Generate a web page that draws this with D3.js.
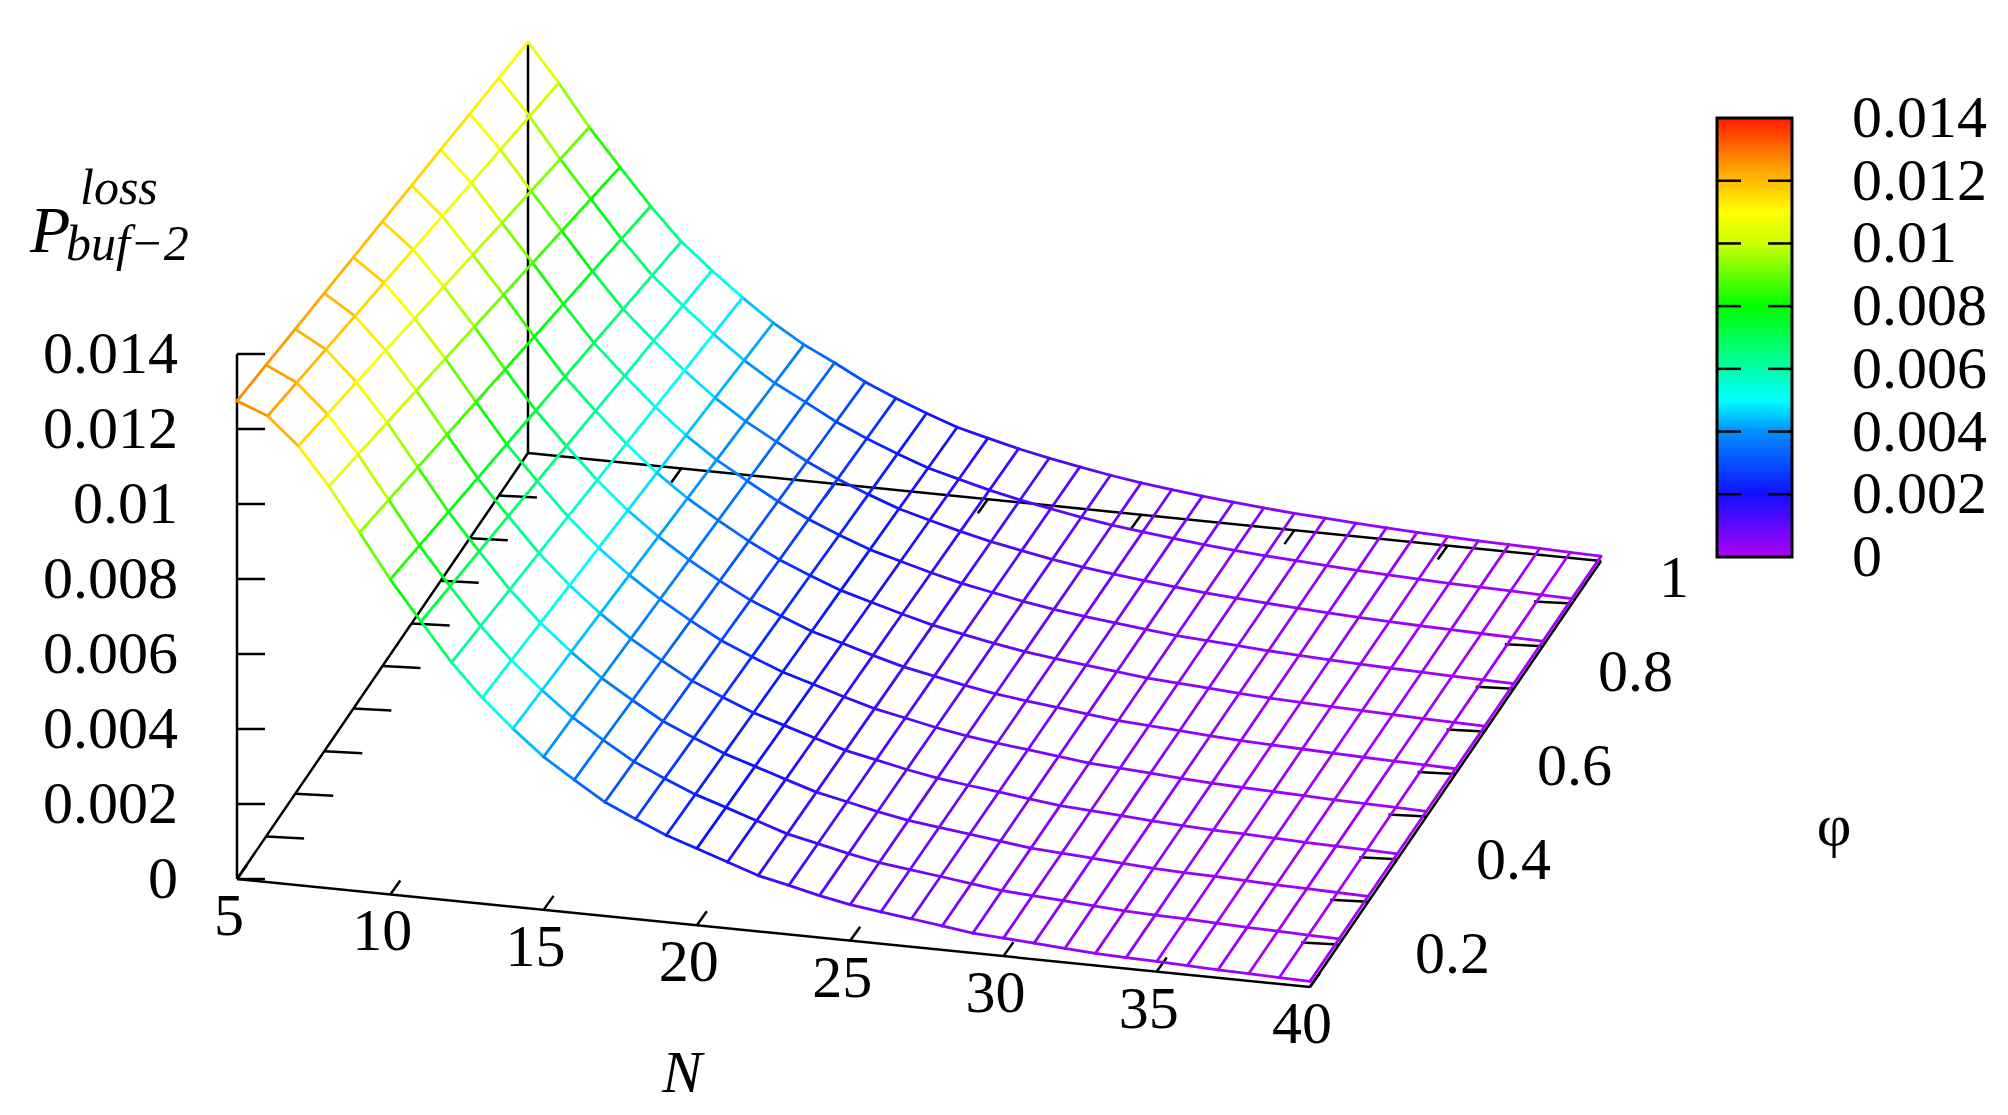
<!DOCTYPE html>
<html><head><meta charset="utf-8">
<script src="https://cdn.jsdelivr.net/npm/d3@7"></script>
<style>body{margin:0;background:#fff}text{font-family:"Liberation Serif","DejaVu Serif",serif;fill:#000}</style>
</head><body>
<svg id="c" width="2008" height="1115"></svg>
<script>
// values
var nValues = d3.range(5, 41);
var phiValues = [0, 0.1, 0.2, 0.3, 0.4, 0.5, 0.6, 0.7, 0.8, 0.9, 1];
var zAtPhi0 = [.01275, .01243, .01171, .01072, .00957, .00840, .00736, .00635, .00549, .00475, .00408, .00355,
  .00304, .00267, .00232, .00205, .00177, .00149, .00131, .00112, .00096, .00085, .00075, .00064, .00053,
  .00048, .00043, .00037, .00032, .00029, .00027, .00024, .00021, .00019, .00017, .00015];
var zAtPhi1 = [.01096, .00995, .00885, .00787, .00691, .00605, .00536, .00472, .00413, .00363, .00323, .00280,
  .00245, .00213, .00184, .00163, .00143, .00126, .00111, .00097, .00085, .00075, .00066, .00058, .00051,
  .00045, .00040, .00035, .00031, .00027, .00024, .00021, .00019, .00017, .00015, .00013];
var zTicks = [0, 0.002, 0.004, 0.006, 0.008, 0.01, 0.012, 0.014];
var nTicks = [5, 10, 15, 20, 25, 30, 35, 40];
var phiTicks = [0.2, 0.4, 0.6, 0.8, 1];

var svg = d3.select("#c");
var O = [237, 879], NV = [1073, 108], PV = [291, -426];
var nS = d3.scaleLinear().domain([5, 40]).range([0, 1]);
var pS = d3.scaleLinear().domain([0, 1]).range([0, 1]);
var zS = d3.scaleLinear().domain([0, 0.014]).range([0, -525]);
function proj(n, p, z) {
  var a = nS(n), b = pS(p);
  return [O[0] + a * NV[0] + b * PV[0], O[1] + a * NV[1] + b * PV[1] + zS(z)];
}
function zval(i, p) { return zAtPhi0[i] * (1 - p) + zAtPhi1[i] * p; }

var color = d3.scaleLinear()
  .domain([0, 0.002, 0.004, 0.005, 0.0065, 0.008, 0.010, 0.011, 0.0125, 0.014])
  .range(['#b000f8', '#1010ff', '#0090ff', '#00ffff', '#00ff80', '#00ff00', '#ccff00', '#ffff00', '#ff9900', '#ff1a00']);

function line(a, b, w) {
  svg.append("line").attr("x1", a[0]).attr("y1", a[1]).attr("x2", b[0]).attr("y2", b[1])
    .attr("stroke", "#000").attr("stroke-width", w || 2.5);
}

// base and axes
line(proj(5, 0, 0), proj(40, 0, 0));
line(proj(40, 0, 0), proj(40, 1, 0));
line(proj(5, 0, 0), proj(5, 1, 0));
line(proj(5, 1, 0), proj(40, 1, 0));
line(proj(5, 0, 0), proj(5, 0, 0.014));
line(proj(5, 1, 0), proj(5, 1, zAtPhi1[0]));

zTicks.forEach(function(t) {
  var p = proj(5, 0, t);
  line(p, [p[0] + 28, p[1]]);
  svg.append("text").attr("x", 178).attr("y", p[1] + 19).attr("text-anchor", "end")
    .attr("font-size", 60).text(t);
});
nTicks.forEach(function(n) {
  var p = proj(n, 0, 0), q = proj(n, 1, 0);
  line(p, [p[0] + 10, p[1] - 14]);
  if (n > 5 && n < 40) line(q, [q[0] - 10, q[1] + 14]);
  svg.append("text").attr("x", p[0] - 8).attr("y", p[1] + 56).attr("text-anchor", "middle")
    .attr("font-size", 60).text(n);
});
d3.range(1, 10).map(function(k) { return k / 10; }).forEach(function(ph) {
  var p = proj(40, ph, 0), q = proj(5, ph, 0);
  line(p, [p[0] - 38, p[1] - 2]);
  line(q, [q[0] + 38, q[1] + 2]);
});
phiTicks.forEach(function(ph) {
  var p = proj(40, ph, 0);
  svg.append("text").attr("x", p[0] + 44 + ph * 14).attr("y", p[1] + 36 + (1 - ph) * 44)
    .attr("font-size", 60).text(ph);
});

// mesh
var segs = [];
phiValues.forEach(function(p) {
  nValues.forEach(function(n, i) {
    if (i > 0) segs.push([proj(nValues[i - 1], p, zval(i - 1, p)), proj(n, p, zval(i, p)), (zval(i - 1, p) + zval(i, p)) / 2]);
  });
});
nValues.forEach(function(n, i) {
  phiValues.forEach(function(p, j) {
    if (j > 0) { var p0 = phiValues[j - 1];
      segs.push([proj(n, p0, zval(i, p0)), proj(n, p, zval(i, p)), (zval(i, p0) + zval(i, p)) / 2]); }
  });
});
svg.append("g").selectAll("line").data(segs).join("line")
  .attr("x1", function(d) { return d[0][0]; }).attr("y1", function(d) { return d[0][1]; })
  .attr("x2", function(d) { return d[1][0]; }).attr("y2", function(d) { return d[1][1]; })
  .attr("stroke", function(d) { return color(d[2]); }).attr("stroke-width", 2.8)
  .attr("stroke-linecap", "round");

// colour bar
var cb = { x: 1717, y: 118, w: 75, h: 439 };
var cy = d3.scaleLinear().domain([0, 0.014]).range([cb.y + cb.h, cb.y]);
var grad = svg.append("defs").append("linearGradient").attr("id", "g")
  .attr("x1", 0).attr("y1", 1).attr("x2", 0).attr("y2", 0);
color.domain().forEach(function(v) {
  grad.append("stop").attr("offset", v / 0.014).attr("stop-color", color(v));
});
svg.append("rect").attr("x", cb.x).attr("y", cb.y).attr("width", cb.w).attr("height", cb.h)
  .attr("fill", "url(#g)").attr("stroke", "#000").attr("stroke-width", 3);
zTicks.forEach(function(t) {
  var y = cy(t);
  if (t > 0 && t < 0.014) {
    line([cb.x, y], [cb.x + 24, y]);
    line([cb.x + cb.w - 24, y], [cb.x + cb.w, y]);
  }
  svg.append("text").attr("x", 1852).attr("y", y + 19).attr("font-size", 60).text(t);
});

// axis titles
svg.append("text").attr("x", 682).attr("y", 1092).attr("font-size", 60).attr("font-style", "italic")
  .attr("text-anchor", "middle").text("N");
svg.append("text").attr("x", 1834).attr("y", 845).attr("font-size", 60).attr("text-anchor", "middle").text("φ");
var yl = svg.append("text").attr("x", 30).attr("y", 252).attr("font-style", "italic");
yl.append("tspan").attr("font-size", 66).text("P");
yl.append("tspan").attr("font-size", 50).attr("x", 80).attr("dy", -48).text("loss");
yl.append("tspan").attr("font-size", 50).attr("x", 66).attr("dy", 56).text("buf−2");
</script>
</body></html>
